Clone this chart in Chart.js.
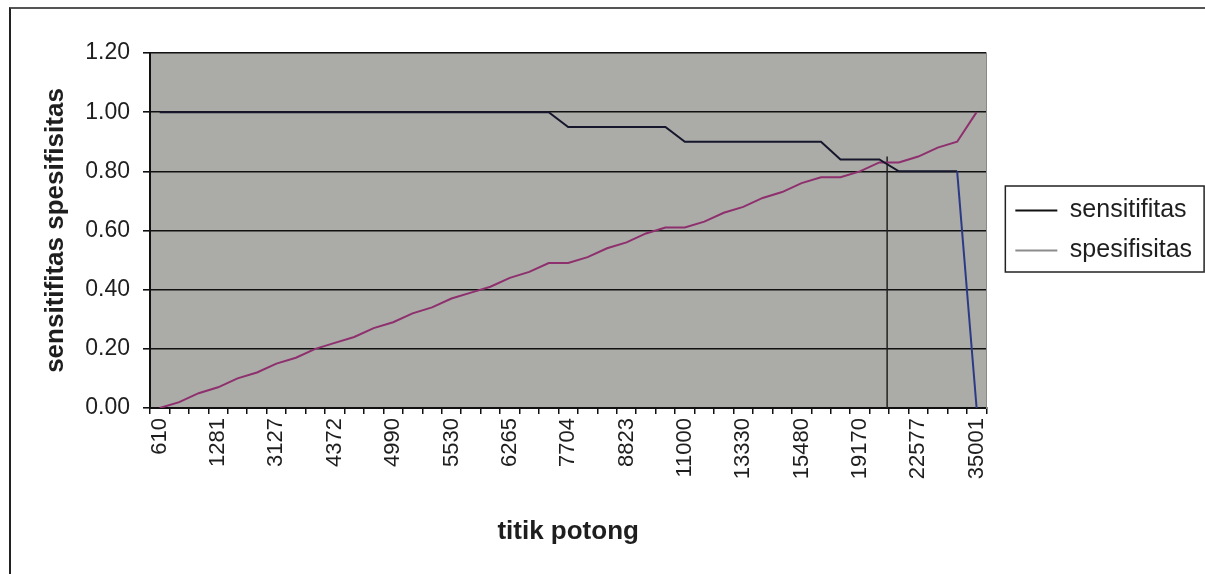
<!DOCTYPE html>
<html>
<head>
<meta charset="utf-8">
<script src="https://cdn.jsdelivr.net/npm/chart.js@4.4.1/dist/chart.umd.min.js"></script>
<style>
  html, body { margin: 0; padding: 0; background: #fff; }
  #wrap { position: relative; width: 1205px; height: 574px; }
  #frame { position: absolute; left: 9px; top: 7px; right: -4px; bottom: -4px;
           border-top: 2px solid #555; border-left: 2px solid #222; pointer-events: none; }
</style>
</head>
<body>
<div id="wrap">
  <canvas id="myChart" width="1205" height="574"></canvas>
  <div id="frame"></div>
</div>
<script>
// cut points (only every third one is printed on the axis)
const cutPoints = [
  '610', '', '', '1281', '', '', '3127', '', '', '4372', '', '',
  '4990', '', '', '5530', '', '', '6265', '', '', '7704', '', '',
  '8823', '', '', '11000', '', '', '13330', '', '', '15480', '', '',
  '19170', '', '', '22577', '', '', '35001'
];

const sensitifitas = [
  1.00, 1.00, 1.00, 1.00, 1.00, 1.00, 1.00, 1.00, 1.00, 1.00, 1.00,
  1.00, 1.00, 1.00, 1.00, 1.00, 1.00, 1.00, 1.00, 1.00, 1.00,
  0.95, 0.95, 0.95, 0.95, 0.95, 0.95,
  0.90, 0.90, 0.90, 0.90, 0.90, 0.90, 0.90, 0.90,
  0.84, 0.84, 0.84,
  0.80, 0.80, 0.80, 0.80,
  0.00
];

const spesifisitas = [
  0.00, 0.02, 0.05, 0.07, 0.10, 0.12, 0.15, 0.17, 0.20, 0.22, 0.24,
  0.27, 0.29, 0.32, 0.34, 0.37, 0.39, 0.41, 0.44, 0.46, 0.49,
  0.49, 0.51, 0.54, 0.56, 0.59, 0.61,
  0.61, 0.63, 0.66, 0.68, 0.71, 0.73, 0.76, 0.78,
  0.78, 0.80, 0.83,
  0.83, 0.85, 0.88, 0.90,
  1.00
];

// vertical marker at the chosen cut point (position in category units)
const cutLineX = [37.4, 37.4];
const cutLineY = [0.85, 0.00];

const yMin = 0, yMax = 1.2, yStep = 0.2;

const legendLineColors = ['#111111', '#8c8c8c'];

const txt = '#1e1e1e';
const font = 'Liberation Sans, Arial, sans-serif';

const plotBackground = {
  id: 'plotBackground',
  beforeDraw(chart) {
    const {ctx, chartArea: a} = chart;
    ctx.save();
    ctx.fillStyle = '#abaca7';
    ctx.fillRect(a.left, a.top, a.right - a.left, a.bottom - a.top);
    ctx.restore();
  }
};

const legendBorder = {
  id: 'legendBorder',
  afterDraw(chart) {
    const boxes = chart.legend && chart.legend.legendHitBoxes;
    if (!boxes || !boxes.length) return;
    let l = Infinity, t = Infinity, r = -Infinity, b = -Infinity;
    boxes.forEach(h => {
      l = Math.min(l, h.left); t = Math.min(t, h.top);
      r = Math.max(r, h.left + h.width); b = Math.max(b, h.top + h.height);
    });
    const ctx = chart.ctx;
    ctx.save();
    ctx.strokeStyle = '#222';
    ctx.lineWidth = 1.5;
    ctx.strokeRect(l - 10, t - 12, (r - l) + 22, (b - t) + 21);
    ctx.restore();
  }
};

const lineData = {
  labels: cutPoints,
  datasets: [
    {
      label: 'sensitifitas',
      data: sensitifitas,
      borderColor: '#16162c',
      borderWidth: 2,
      pointRadius: 0,
      tension: 0,
      segment: {
        borderColor: c => c.p1DataIndex === sensitifitas.length - 1 ? '#2c3a86' : undefined
      }
    },
    {
      label: 'spesifisitas',
      data: spesifisitas,
      borderColor: '#8e2f6e',
      borderWidth: 2,
      pointRadius: 0,
      tension: 0
    },
    {
      label: 'titik potong terpilih',
      data: cutLineX.map((x, i) => ({x: x, y: cutLineY[i]})),
      xAxisID: 'x2',
      borderColor: '#222',
      borderWidth: 1.5,
      pointRadius: 0,
      tension: 0
    }
  ]
};

const ctx = document.getElementById('myChart').getContext('2d');

const rocChart = new Chart(ctx, {
  type: 'line',
  data: lineData,
  plugins: [plotBackground, legendBorder],
  options: {
    responsive: false,
    animation: false,
    layout: { padding: { left: 37, top: 53, right: 12, bottom: 23 } },
    plugins: {
      tooltip: { enabled: false },
      legend: {
        position: 'right',
        fullSize: false,
        labels: {
          color: txt,
          font: { family: font, size: 25 },
          boxWidth: 42,
          boxHeight: 2,
          padding: 15,
          generateLabels: chart => chart.data.datasets.slice(0, 2).map((ds, i) => ({
            text: ds.label,
            fillStyle: legendLineColors[i],
            strokeStyle: legendLineColors[i],
            lineWidth: 0,
            hidden: false,
            datasetIndex: i,
            fontColor: txt
          }))
        }
      }
    },
    scales: {
      x: {
        type: 'category',
        offset: true,
        afterFit: s => { s.height = 143; },
        grid: { offset: true, drawOnChartArea: false, color: '#111', lineWidth: 1.5, tickLength: 6 },
        border: { color: '#111', width: 2 },
        ticks: {
          autoSkip: false,
          maxRotation: 90,
          minRotation: 90,
          padding: 4,
          color: txt,
          font: { family: font, size: 22 }
        },
        title: {
          display: true,
          text: 'titik potong',
          color: txt,
          font: { family: font, size: 26, weight: 'bold' },
          padding: { top: 10, bottom: 4 }
        }
      },
      x2: {
        type: 'linear',
        display: false,
        min: -0.5,
        max: cutPoints.length - 0.5
      },
      y: {
        min: yMin,
        max: yMax,
        afterFit: s => { s.width = 113; },
        grid: { color: '#111', lineWidth: 1.6, tickLength: 7 },
        border: { color: '#111', width: 2 },
        ticks: {
          stepSize: yStep,
          padding: 13,
          color: txt,
          font: { family: font, size: 23 },
          callback: v => Number(v).toFixed(2)
        },
        title: {
          display: true,
          text: 'sensitifitas spesifisitas',
          color: txt,
          font: { family: font, size: 26, weight: 'bold' },
          padding: { top: 3, bottom: 4 }
        }
      },
      yRight: {
        position: 'right',
        display: true,
        afterFit: s => { s.width = 14; },
        grid: { display: false },
        border: { display: true, color: '#8a8a8a', width: 1 },
        ticks: { display: false }
      }
    }
  }
});
</script>
</body>
</html>
